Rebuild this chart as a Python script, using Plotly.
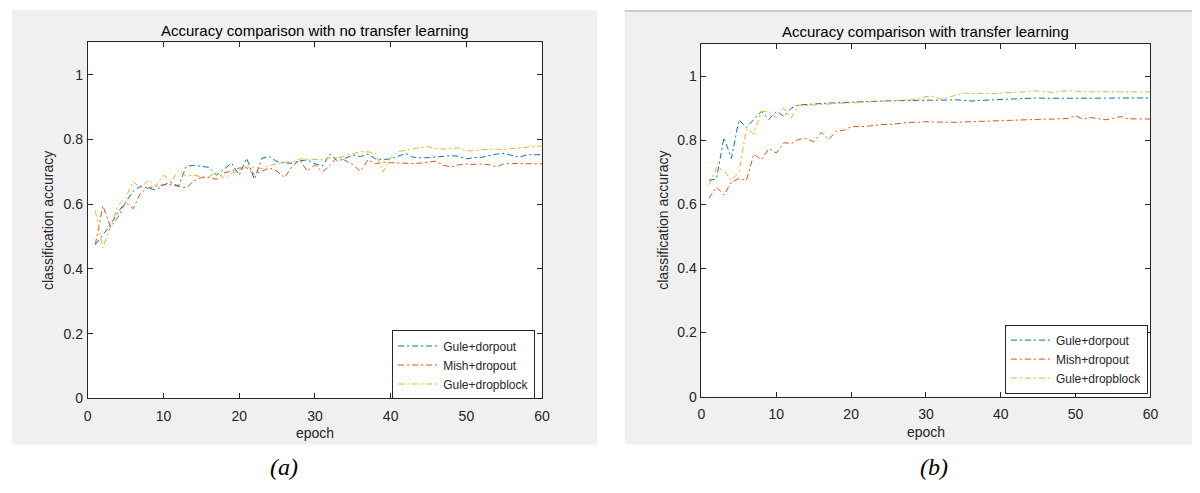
import plotly.graph_objects as go

# ---------------- data ----------------
epochs = list(range(1, 61))
series_names = ["Gule+dorpout", "Mish+dropout", "Gule+dropblock"]
series_colors = ["#0072BD", "#D95319", "#EDB120"]

# (a) no transfer learning
a_gule_dropout = [0.475, 0.505, 0.535, 0.576, 0.606, 0.64, 0.656, 0.65, 0.643, 0.66,
                  0.667, 0.656, 0.717, 0.72, 0.717, 0.714, 0.69, 0.71, 0.727, 0.69,
                  0.742, 0.677, 0.742, 0.747, 0.732, 0.727, 0.727, 0.734, 0.737,
                  0.725, 0.718, 0.755, 0.733, 0.742, 0.752, 0.747, 0.755, 0.74, 0.738,
                  0.74, 0.748, 0.757, 0.745, 0.743, 0.744, 0.745, 0.748, 0.75, 0.748,
                  0.74, 0.744, 0.745, 0.75, 0.755, 0.757, 0.75, 0.745, 0.753, 0.752, 0.753]
a_mish_dropout = [0.475, 0.595, 0.53, 0.56, 0.606, 0.586, 0.636, 0.65, 0.656, 0.66,
                  0.66, 0.656, 0.65, 0.672, 0.682, 0.682, 0.677, 0.697, 0.702, 0.712,
                  0.712, 0.692, 0.702, 0.712, 0.702, 0.682, 0.717, 0.737, 0.702,
                  0.722, 0.70, 0.72, 0.748, 0.735, 0.722, 0.702, 0.737, 0.725, 0.73,
                  0.728, 0.727, 0.725, 0.726, 0.727, 0.73, 0.733, 0.72, 0.715, 0.722,
                  0.724, 0.723, 0.724, 0.722, 0.716, 0.725, 0.726, 0.726, 0.725, 0.724, 0.725]
a_gule_dropblock = [0.58, 0.465, 0.53, 0.596, 0.62, 0.67, 0.65, 0.674, 0.656, 0.69,
                    0.67, 0.704, 0.687, 0.69, 0.685, 0.685, 0.70, 0.68, 0.695, 0.705,
                    0.715, 0.715, 0.71, 0.72, 0.725, 0.73, 0.73, 0.74, 0.74,
                    0.738, 0.737, 0.744, 0.742, 0.75, 0.757, 0.762, 0.762, 0.757, 0.70,
                    0.745, 0.762, 0.768, 0.772, 0.775, 0.778, 0.772, 0.77, 0.772, 0.774,
                    0.764, 0.766, 0.77, 0.77, 0.77, 0.769, 0.772, 0.774, 0.774, 0.776, 0.78]

# (b) with transfer learning
b_gule_dropout = [0.675, 0.68, 0.808, 0.743, 0.864, 0.84, 0.865, 0.89, 0.865, 0.89,
                  0.875, 0.9, 0.91,
                  0.912, 0.914, 0.915, 0.916, 0.917, 0.918, 0.92, 0.921, 0.921, 0.922,
                  0.922, 0.923, 0.923, 0.924, 0.924, 0.925, 0.925,
                  0.925, 0.926, 0.926, 0.926, 0.925, 0.922, 0.924, 0.925, 0.928, 0.929,
                  0.93, 0.93, 0.931, 0.933, 0.932, 0.931, 0.93, 0.931, 0.931, 0.931,
                  0.93, 0.93, 0.93, 0.93, 0.93, 0.931, 0.931, 0.931, 0.932, 0.932]
b_mish_dropout = [0.619, 0.654, 0.629, 0.67, 0.68, 0.675, 0.757, 0.739, 0.774, 0.76,
                  0.792, 0.79, 0.803, 0.805, 0.795, 0.825, 0.803, 0.828, 0.831, 0.842,
                  0.843, 0.843, 0.846, 0.849, 0.849, 0.852, 0.854, 0.856, 0.856, 0.858,
                  0.857, 0.856, 0.856, 0.856, 0.857, 0.858, 0.858, 0.86, 0.861, 0.862,
                  0.863, 0.864, 0.865, 0.866, 0.866, 0.866, 0.866, 0.867, 0.868, 0.876,
                  0.866, 0.871, 0.868, 0.864, 0.868, 0.874, 0.867, 0.866, 0.866, 0.866]
b_gule_dropblock = [0.66, 0.715, 0.705, 0.675, 0.70, 0.835, 0.82, 0.89, 0.89, 0.87,
                    0.9, 0.87, 0.91,
                    0.908, 0.91, 0.912, 0.914, 0.915, 0.916, 0.917, 0.918, 0.92, 0.921,
                    0.922, 0.922, 0.923, 0.925, 0.926, 0.93, 0.936,
                    0.937, 0.928, 0.934, 0.94, 0.947, 0.946, 0.945, 0.946, 0.946, 0.947,
                    0.948, 0.95, 0.951, 0.954, 0.953, 0.953, 0.948, 0.953, 0.954, 0.954,
                    0.951, 0.951, 0.951, 0.95, 0.949, 0.951, 0.951, 0.951, 0.95, 0.951]

x_ticks = [0, 10, 20, 30, 40, 50, 60]
y_ticks = [0, 0.2, 0.4, 0.6, 0.8, 1]
y_tick_labels = ["0", "0.2", "0.4", "0.6", "0.8", "1"]
titles = ["Accuracy comparison with no transfer learning",
          "Accuracy comparison with transfer learning"]
x_title = "epoch"
y_title = "classification accuracy"
captions = ["(a)", "(b)"]

# ---------------- layout helpers ----------------
# page is 1200x493; the browser body keeps its default 8px margin,
# so the figure is 1192x477 and sits at page offset (8, 8)
OFF = 8
W, H = 1192, 477
def px(x):
    return (x - OFF) / W
def py(y):
    return 1 - (y - OFF) / H

SANS = "Liberation Sans, Arial, Helvetica, sans-serif"
SERIF = "Liberation Serif, Times New Roman, serif"
AX = "#262626"
DASH = "6px,3px,2px,3px"

fig = go.Figure()
panels = [
    (a_gule_dropout, a_mish_dropout, a_gule_dropblock, "x", "y", "legend"),
    (b_gule_dropout, b_mish_dropout, b_gule_dropblock, "x2", "y2", "legend2"),
]
for vals_a, vals_b, vals_c, xa, ya, lg in panels:
    for name, color, vals in zip(series_names, series_colors, [vals_a, vals_b, vals_c]):
        fig.add_trace(go.Scatter(x=epochs, y=vals, mode="lines", name=name,
                                 line=dict(color=color, width=1, dash=DASH),
                                 xaxis=xa, yaxis=ya, legend=lg))

def xaxis(dom, anchor):
    return dict(domain=dom, anchor=anchor, range=[0, 60], tickvals=x_ticks,
                showline=True, linecolor=AX, linewidth=1, mirror="ticks",
                ticks="inside", ticklen=5, tickcolor=AX, showgrid=False, zeroline=False,
                ticklabelstandoff=5,
                tickfont=dict(family=SANS, size=14, color=AX))

def yaxis(dom, anchor):
    return dict(domain=dom, anchor=anchor, range=[0, 1.1], tickvals=y_ticks,
                ticktext=y_tick_labels,
                showline=True, linecolor=AX, linewidth=1, mirror="ticks",
                ticks="inside", ticklen=5, tickcolor=AX, showgrid=False, zeroline=False,
                ticklabelstandoff=1,
                tickfont=dict(family=SANS, size=14, color=AX))

A = dict(x0=84.5, x1=543.5, y0=43, y1=405)
B = dict(x0=704.5, x1=1158, y0=44.7, y1=403.3)

legend_style = dict(xanchor="left", yanchor="top", bgcolor="white",
                    bordercolor=AX, borderwidth=1,
                    font=dict(family=SANS, size=12, color=AX),
                    tracegroupgap=0, itemwidth=40)

fig.update_layout(
    width=W, height=H,
    margin=dict(l=0, r=0, t=0, b=0),
    paper_bgcolor="white", plot_bgcolor="white",
    xaxis=xaxis([px(A["x0"]), px(A["x1"])], "y"),
    yaxis=yaxis([py(A["y1"]), py(A["y0"])], "x"),
    xaxis2=xaxis([px(B["x0"]), px(B["x1"])], "y2"),
    yaxis2=yaxis([py(B["y1"]), py(B["y0"])], "x2"),
    legend=dict(x=px(392), y=py(336), **legend_style),
    legend2=dict(x=px(1011), y=py(330), **legend_style),
    showlegend=True,
)

shapes = [
    dict(type="rect", xref="paper", yref="paper", x0=px(8), x1=px(599), y0=py(452), y1=py(10),
         fillcolor="#F0F0F0", line=dict(width=0), layer="below"),
    dict(type="rect", xref="paper", yref="paper", x0=px(627), x1=px(1200), y0=py(452), y1=py(11),
         fillcolor="#F0F0F0", line=dict(width=0), layer="below"),
    dict(type="line", xref="paper", yref="paper", x0=px(627), x1=px(1200), y0=py(11), y1=py(11),
         line=dict(color="#A0A0A0", width=1), layer="below"),
    dict(type="rect", xref="paper", yref="paper", x0=px(A["x0"]), x1=px(A["x1"]),
         y0=py(A["y1"]), y1=py(A["y0"]), fillcolor="white", line=dict(width=0), layer="below"),
    dict(type="rect", xref="paper", yref="paper", x0=px(B["x0"]), x1=px(B["x1"]),
         y0=py(B["y1"]), y1=py(B["y0"]), fillcolor="white", line=dict(width=0), layer="below"),
]
fig.update_layout(shapes=shapes)

ann = []
def text(t, x, y, size, family=SANS, color=AX, angle=0, style="normal"):
    ann.append(dict(text=t, x=px(x), y=py(y), xref="paper", yref="paper",
                    xanchor="center", yanchor="middle", showarrow=False, textangle=angle,
                    font=dict(family=family, size=size, color=color, style=style)))

text(titles[0], (A["x0"] + A["x1"]) / 2, 31, 15, color="#000000")
text(titles[1], (B["x0"] + B["x1"]) / 2, 32, 15, color="#000000")
text(x_title, (A["x0"] + A["x1"]) / 2, 440, 14)
text(x_title, (B["x0"] + B["x1"]) / 2, 439, 14)
text(y_title, 45, (A["y0"] + A["y1"]) / 2, 14, angle=-90)
text(y_title, 666, (B["y0"] + B["y1"]) / 2, 14, angle=-90)
text(captions[0], 283, 475, 24, family=SERIF, color="#000000", style="italic")
text(captions[1], 939, 475, 24, family=SERIF, color="#000000", style="italic")
fig.update_layout(annotations=ann)

fig.write_html("out.html", config={"displayModeBar": False})
